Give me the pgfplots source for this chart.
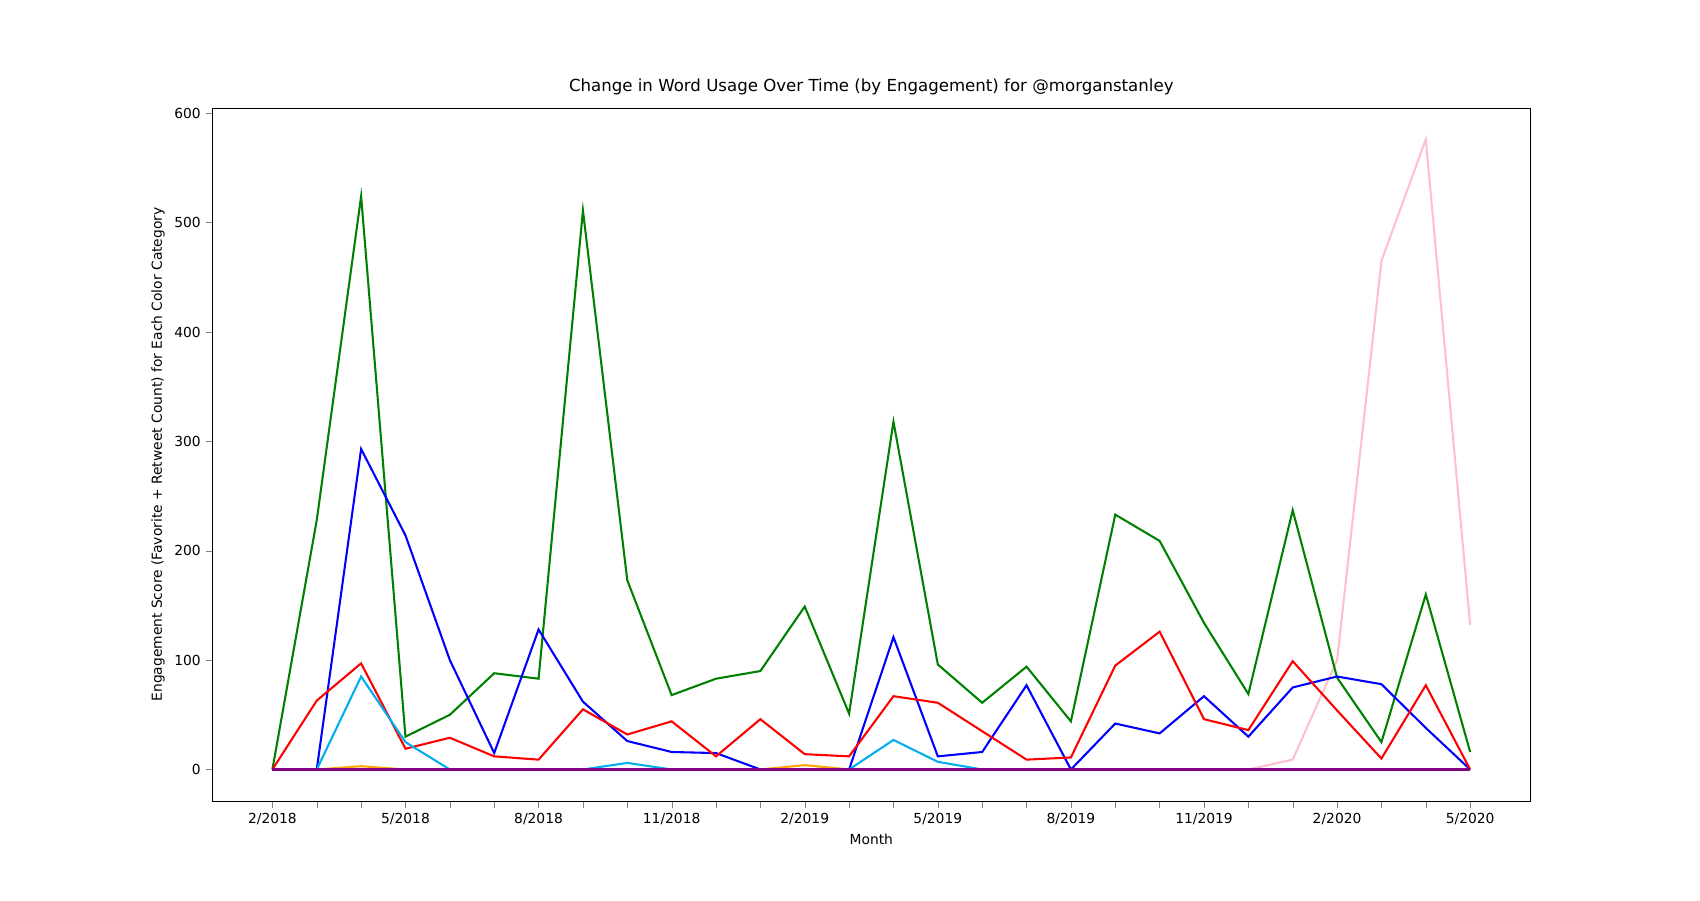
\documentclass[border=0pt]{standalone}
\usepackage{pgfplots}
\pgfplotsset{compat=1.18}
\usepackage{fontspec}
\setmainfont{DejaVu Sans}
\definecolor{mgreen}{RGB}{0,128,0}
\definecolor{morange}{RGB}{255,165,0}
\definecolor{mpink}{RGB}{255,192,203}
\definecolor{mpurple}{RGB}{128,0,128}
\begin{document}
\fontsize{10}{12}\selectfont
\begin{tikzpicture}
\begin{axis}[
  scale only axis, width=13.175in, height=6.93in,
  xmin=-1.35, xmax=28.35, ymin=-28.8, ymax=604.8,
  xtick={0,...,27},
  xticklabels={2/2018,,,5/2018,,,8/2018,,,11/2018,,,2/2019,,,5/2019,,,8/2019,,,11/2019,,,2/2020,,,5/2020},
  ytick={0,100,...,600},
  tick align=outside, tick pos=left,
  major tick length=5pt,
  /pgf/number format/assume math mode=true,
  ticklabel style={font=\fontsize{10}{12}\selectfont},
  label style={font=\fontsize{10}{12}\selectfont},
  title style={font=\fontsize{12}{14}\selectfont},
  title={Change in Word Usage Over Time (by Engagement) for @morganstanley},
  xlabel={Month},
  ylabel={Engagement Score (Favorite + Retweet Count) for Each Color Category},
  every axis plot/.append style={line width=1.5pt, mark=none},
  clip=false,
]
\path (rel axis cs:-0.1613,-0.1429) rectangle (rel axis cs:1.129,1.1558);
\addplot[mpink] coordinates {(0,0)(22,0)(23,9)(24,100)(25,465)(26,576)(27,132)};
\addplot[mgreen] coordinates {(0,0)(1,228)(2,524)(3,30)(4,50)(5,88)(6,83)(7,511)(8,173)(9,68)(10,83)(11,90)(12,149)(13,51)(14,318)(15,96)(16,61)(17,94)(18,44)(19,233)(20,209)(21,134)(22,69)(23,237)(24,84)(25,25)(26,160)(27,16)};
\addplot[blue] coordinates {(0,0)(1,0)(2,293)(3,214)(4,100)(5,15)(6,128)(7,62)(8,26)(9,16)(10,15)(11,0)(12,0)(13,0)(14,121)(15,12)(16,16)(17,77)(18,0)(19,42)(20,33)(21,67)(22,30)(23,75)(24,85)(25,78)(26,38)(27,0)};
\addplot[red] coordinates {(0,0)(1,63)(2,97)(3,19)(4,29)(5,12)(6,9)(7,55)(8,32)(9,44)(10,12)(11,46)(12,14)(13,12)(14,67)(15,61)(16,35)(17,9)(18,11)(19,95)(20,126)(21,46)(22,36)(23,99)(24,54)(25,10)(26,77)(27,0)};
\addplot[cyan] coordinates {(0,0)(1,0)(2,85)(3,25)(4,0)(5,0)(6,0)(7,0)(8,6)(9,0)(13,0)(14,27)(15,7)(16,0)(27,0)};
\addplot[morange] coordinates {(0,0)(1,0)(2,3)(3,0)(11,0)(12,4)(13,0)(27,0)};
\addplot[mpurple] coordinates {(0,0)(27,0)};
\end{axis}
\end{tikzpicture}
\end{document}
